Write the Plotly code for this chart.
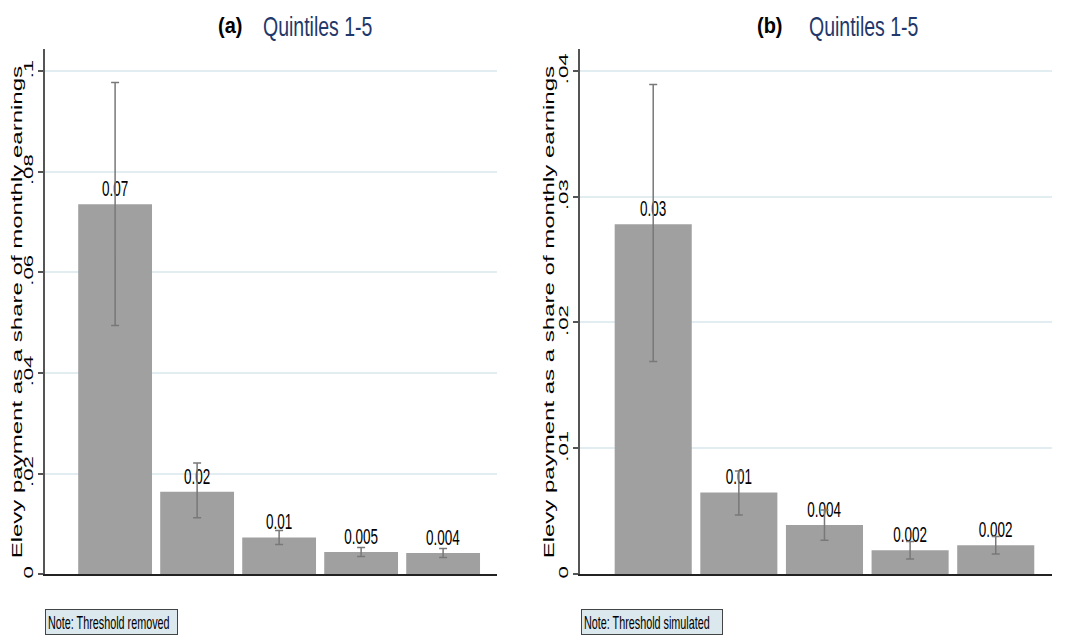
import plotly.graph_objects as go

# ---- data -------------------------------------------------------------
quintiles = [1, 2, 3, 4, 5]

# (a) threshold removed
share_a = [0.0735, 0.0164, 0.0073, 0.0044, 0.0042]
ci_lo_a = [0.0494, 0.0112, 0.0059, 0.0035, 0.0033]
ci_hi_a = [0.0977, 0.0221, 0.0087, 0.0053, 0.0051]
labels_a = ["0.07", "0.02", "0.01", "0.005", "0.004"]

# (b) threshold simulated
share_b = [0.0278, 0.0065, 0.0039, 0.0019, 0.0023]
ci_lo_b = [0.0169, 0.0047, 0.0027, 0.0012, 0.0016]
ci_hi_b = [0.0389, 0.0082, 0.0051, 0.0026, 0.0030]
labels_b = ["0.03", "0.01", "0.004", "0.002", "0.002"]

yticks_a = [0, 0.02, 0.04, 0.06, 0.08, 0.1]
yticklabels_a = ["0", ".02", ".04", ".06", ".08", ".1"]
yticks_b = [0, 0.01, 0.02, 0.03, 0.04]
yticklabels_b = ["0", ".01", ".02", ".03", ".04"]

panel_tags = ["(a)", "(b)"]
panel_title = "Quintiles 1-5"
y_title = "Elevy payment as a share of monthly earnings"
notes = ["Note: Threshold removed", "Note: Threshold simulated"]

# ---- style ------------------------------------------------------------
W, H = 1069, 637
FONT = "Liberation Sans, Arial, Helvetica, sans-serif"
BAR = "#a0a0a0"
ERR = "#787878"
GRID = "#e1edf0"
NAVY = "#22386b"


def px_x(p):
    return p / W


def px_y(p):
    return 1 - p / H


def bar_trace(vals, lo, hi, labels, xa, ya):
    return go.Bar(
        x=quintiles, y=vals, width=0.9,
        marker=dict(color=BAR, line=dict(width=0)),
        text=labels, textposition="outside", cliponaxis=False,
        constraintext="none",
        textfont=dict(family=FONT, size=13.5, color="black"),
        error_y=dict(type="data", symmetric=False,
                     array=[h - v for h, v in zip(hi, vals)],
                     arrayminus=[v - l for v, l in zip(vals, lo)],
                     color=ERR, thickness=1.5, width=4),
        xaxis=xa, yaxis=ya, showlegend=False, hoverinfo="skip",
    )


fig = go.Figure()
fig.add_trace(bar_trace(share_a, ci_lo_a, ci_hi_a, labels_a, "x", "y"))
fig.add_trace(bar_trace(share_b, ci_lo_b, ci_hi_b, labels_b, "x2", "y2"))

ydom = [px_y(576), px_y(49)]
xcommon = dict(range=[0.145, 5.657], showticklabels=False, ticks="",
               showgrid=False, zeroline=False, showline=True,
               linecolor="#222222", linewidth=1.5, fixedrange=True)
ycommon = dict(tickangle=-90, ticks="outside", ticklen=5, tickwidth=1.5,
               tickcolor="#555555", showgrid=True, gridcolor=GRID, gridwidth=1.5,
               showline=True, linecolor="#555555", linewidth=1.5, zeroline=False,
               tickfont=dict(family=FONT, size=13, color="black"),
               domain=ydom, fixedrange=True)

fig.update_layout(
    width=W, height=H,
    margin=dict(l=0, r=0, t=0, b=0),
    paper_bgcolor="white", plot_bgcolor="white",
    font=dict(family=FONT, color="black"),
    xaxis=dict(domain=[px_x(45), px_x(497)], anchor="y", **xcommon),
    xaxis2=dict(domain=[px_x(580), px_x(1052)], anchor="y2", **xcommon),
    yaxis=dict(range=[0, 0.1044], tickvals=yticks_a, ticktext=yticklabels_a,
               anchor="x", **ycommon),
    yaxis2=dict(range=[0, 0.04174], tickvals=yticks_b, ticktext=yticklabels_b,
                anchor="x2", **ycommon),
)

ann = []
# panel headings
for tag, tx, qx in [(panel_tags[0], 230, 318), (panel_tags[1], 770, 864)]:
    ann.append(dict(text="<b>" + tag + "</b>", x=px_x(tx), y=px_y(25),
                    xref="paper", yref="paper", xanchor="center", yanchor="middle",
                    showarrow=False, font=dict(family=FONT, size=20, color="black")))
    ann.append(dict(text=panel_title, x=px_x(qx), y=px_y(26),
                    xref="paper", yref="paper", xanchor="center", yanchor="middle",
                    showarrow=False, font=dict(family=FONT, size=19.5, color=NAVY)))
# y axis titles
for yx in [16, 548]:
    ann.append(dict(text=y_title, x=px_x(yx), y=px_y(313), textangle=-90,
                    xref="paper", yref="paper", xanchor="center", yanchor="middle",
                    showarrow=False, font=dict(family=FONT, size=15.5, color="black")))
# note boxes
for note, nx, nw in [(notes[0], 45, 127), (notes[1], 581, 136)]:
    ann.append(dict(text=note, x=px_x(nx), y=px_y(611), xref="paper", yref="paper",
                    xanchor="left", yanchor="top", align="left", valign="middle",
                    width=nw, height=20, borderpad=2, borderwidth=1,
                    bordercolor="#444444", bgcolor="#dbe8ee", showarrow=False,
                    font=dict(family=FONT, size=10.8, color="black")))
fig.update_layout(annotations=ann)

# Stata-style tall lettering: stretch text vertically after drawing
post_js = """
try {
  var gd = document.querySelector('.plotly-graph-div');
  function stretch(el, k, mode) {
    var bb = el.getBBox();
    var t = el.getAttribute('transform') || '';
    var s;
    if (mode === 'x') {
      var cx = bb.x + bb.width / 2;
      s = ' translate(' + cx + ',0) scale(' + k + ',1) translate(' + (-cx) + ',0)';
    } else if (mode === 'bottom') {
      var by = bb.y + bb.height;
      s = ' translate(0,' + by + ') scale(1,' + k + ') translate(0,' + (-by) + ')';
    } else {
      var cy = bb.y + bb.height / 2;
      s = ' translate(0,' + cy + ') scale(1,' + k + ') translate(0,' + (-cy) + ')';
    }
    el.setAttribute('transform', t + s);
  }
  gd.querySelectorAll('.yaxislayer-above text').forEach(function (el) { stretch(el, 1.7, 'x'); });
  gd.querySelectorAll('text.bartext').forEach(function (el) { stretch(el, 1.7, 'bottom'); });
  gd.querySelectorAll('text.annotation-text').forEach(function (el) {
    var s = el.textContent;
    if (s.indexOf('Elevy') === 0) { stretch(el, 1.55, 'x'); }
    else if (s.indexOf('Quintiles') === 0) { stretch(el, 1.38, 'center'); }
    else if (s.indexOf('Note') === 0) { stretch(el, 1.64, 'center'); }
    else if (s.indexOf('(') === 0) { stretch(el, 1.08, 'center'); }
  });
} catch (e) { console.log(e); }
"""

fig.write_html("out.html", post_script=post_js)
